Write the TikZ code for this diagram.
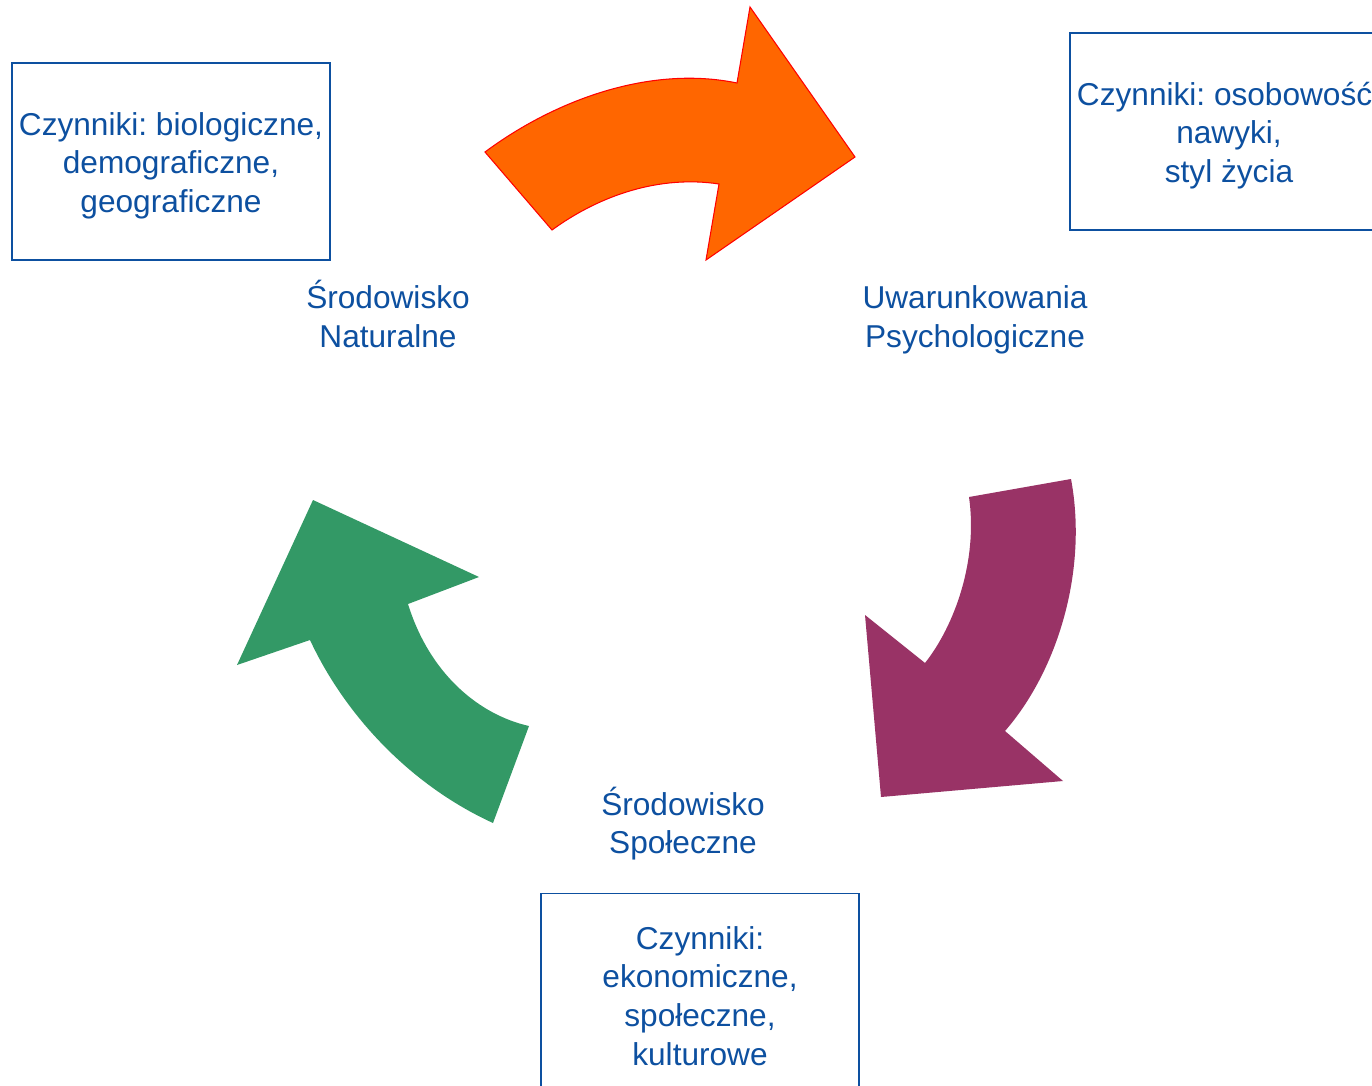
\documentclass[tikz,border=0pt]{standalone}
\usepackage{fontspec}
\setmainfont{Liberation Sans}
\frenchspacing
\definecolor{niebieski}{RGB}{13,80,160}
\definecolor{pomarancz}{HTML}{FF6600}
\definecolor{sliwka}{HTML}{993366}
\definecolor{zielen}{HTML}{339966}
\tikzset{
  napis/.style={text=niebieski, font=\fontsize{18}{22}\selectfont, align=center, inner sep=0pt},
  ramka/.style={draw=niebieski, line width=1.1pt, minimum width=6.36cm, minimum height=3.94cm},
}
\begin{document}
\begin{tikzpicture}[x=0.02cm,y=-0.02cm]
   \useasboundingbox (0,0) rectangle (1372,1085);

   % strzałki
   \draw[fill=pomarancz, draw=red, line width=0.6pt] (485,152) .. controls (555,100) and (650,65) .. (737,83) -- (750,7) -- (855,157) -- (706,260) -- (719,184) .. controls (660,175) and (600,195) .. (552,230) -- cycle;
   \fill[sliwka] (1071,479) .. controls (1088,570) and (1058,670) .. (1005,731) -- (1063,781) -- (881,797) -- (865,615) -- (925,663) .. controls (955,625) and (978,560) .. (969,497) -- cycle;
   \fill[zielen] (313,500) -- (479,577) -- (408,604) .. controls (430,675) and (480,715) .. (529,726) -- (493,823) .. controls (410,785) and (345,715) .. (310,640) -- (237,665) -- cycle;

   % ramki
   \node[ramka] (boxNat) at (171,161.5) {};
   \node[ramka] (boxPsy) at (1229,131.5) {};
   \node[ramka] (boxSpol) at (700,992) {};
   \node[napis] (txtNat) at ([yshift=-0.08cm]boxNat) {Czynniki: biologiczne,\\demograficzne,\\geograficzne};
   \node[napis] (txtPsy) at ([yshift=-0.08cm]boxPsy) {Czynniki: osobowość,\\nawyki,\\styl życia};
   \node[napis] (txtSpol) at ([yshift=-0.08cm]boxSpol) {Czynniki:\\ekonomiczne,\\społeczne,\\kulturowe};

   % podpisy
   \node[napis] (labNat) at (388,314) {Środowisko\\Naturalne};
   \node[napis] (labPsy) at (975,320) {Uwarunkowania\\Psychologiczne};
   \node[napis] (labSpol) at (683,823.5) {Środowisko\\Społeczne};
\end{tikzpicture}
\end{document}
